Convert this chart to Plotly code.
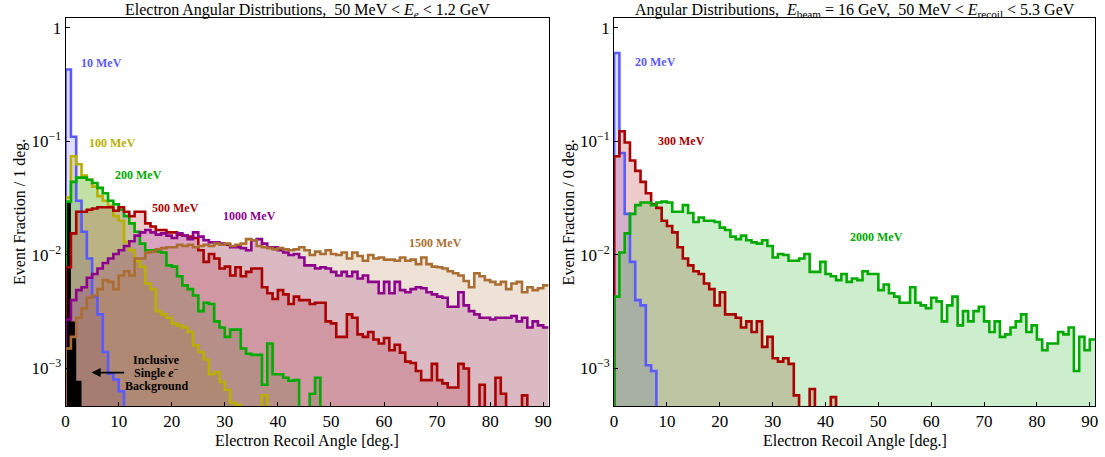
import plotly.graph_objects as go

# bin edges in degrees (1-degree bins, 0..91)
angle_edges = list(range(0, 92))

# ---- left panel: event fraction per 1 deg bin (0 = empty bin, below the plot) ----
bg_inclusive = [0.029, 0.0026, 0.00078]

frac_10mev = [0.43, 0.11, 0.030, 0.016, 0.0093, 0.0043, 0.0030, 0.0014, 0.00090, 0.00080,
              0.00063]

frac_100mev = [0.032, 0.074, 0.063, 0.050, 0.046, 0.040, 0.033, 0.030, 0.027, 0.022,
               0.020, 0.013, 0.011, 0.0089, 0.0079, 0.0056, 0.0050, 0.0032, 0.0030, 0.0028,
               0.0025, 0.0024, 0.0023, 0.0021, 0.0016, 0.0014, 0.0012, 0.00089, 0.00093, 0.00076,
               0.00065, 0.00050, 0.00048, 0, 0, 0, 0, 0.00058]

frac_200mev = [0.0295, 0.044, 0.048, 0.048, 0.046, 0.043, 0.039, 0.035, 0.030, 0.028,
               0.025, 0.022, 0.019, 0.016, 0.0126, 0.011, 0.011, 0.0107, 0.0105, 0.0081,
               0.0079, 0.0065, 0.0054, 0.0050, 0.0044, 0.0032, 0.0038, 0.0037, 0.0026, 0.0023,
               0.0019, 0.0022, 0.0022, 0.0015, 0.00135, 0.00132, 0.00132, 0.00072, 0.00166, 0.00089,
               0.00089, 0.00083, 0.00078, 0.00079, 0, 0, 0.00060, 0.00083]

frac_500mev = [0.0078, 0.0155, 0.024, 0.024, 0.025, 0.0257, 0.0263, 0.0263, 0.0263, 0.0245,
               0.0263, 0.024, 0.0219, 0.024, 0.024, 0.019, 0.0178, 0.0166, 0.0166, 0.0158,
               0.0158, 0.0151, 0.0148, 0.0145, 0.0141, 0.011, 0.0087, 0.0102, 0.0093, 0.0076,
               0.0079, 0.0066, 0.0078, 0.0065, 0.0071, 0.0076, 0.0076, 0.0052, 0.0046, 0.0041,
               0.0049, 0.0045, 0.0037, 0.0043, 0.0040, 0.0040, 0.0037, 0.0038, 0.0038, 0.0026,
               0.0025, 0.0019, 0.0019, 0.0030, 0.0028, 0.0020, 0.0019, 0.0021, 0.0018, 0.00166,
               0.00186, 0.00145, 0.00162, 0.00138, 0.00115, 0.00112, 0.00095, 0.00079, 0.00079, 0.0011,
               0.00079, 0.00074, 0.00068, 0.00068, 0.0011, 0.0010, 0, 0, 0.00072, 0,
               0, 0.00083, 0.00060, 0, 0, 0, 0.00058]

frac_1000mev = [0.0027, 0.0040, 0.0049, 0.0052, 0.0063, 0.0068, 0.0076, 0.0085, 0.0093, 0.0102,
                0.011, 0.012, 0.0132, 0.0148, 0.0158, 0.0166, 0.0158, 0.0151, 0.0155, 0.0148,
                0.0141, 0.0155, 0.0148, 0.0138, 0.0158, 0.0145, 0.0135, 0.0129, 0.0129, 0.0126,
                0.0123, 0.0117, 0.0117, 0.0115, 0.011, 0.0135, 0.0138, 0.0126, 0.0117, 0.0117,
                0.011, 0.0105, 0.0100, 0.0102, 0.0095, 0.0081, 0.0081, 0.0076, 0.0078, 0.0076,
                0.0071, 0.0066, 0.0071, 0.0065, 0.0071, 0.0062, 0.0066, 0.0058, 0.0058, 0.0046,
                0.0058, 0.0046, 0.0058, 0.0049, 0.0047, 0.0050, 0.0052, 0.0051, 0.0047, 0.0045,
                0.0043, 0.0042, 0.0035, 0.0035, 0.0047, 0.0036, 0.0032, 0.0030, 0.0028, 0.0028,
                0.0027, 0.0028, 0.0028, 0.0028, 0.0029, 0.0026, 0.0028, 0.0023, 0.0026, 0.0024,
                0.0023]

frac_1500mev = [0.0015, 0.0019, 0.0028, 0.0034, 0.0042, 0.0044, 0.0050, 0.0060, 0.0058, 0.0050,
                0.0066, 0.0072, 0.0066, 0.0093, 0.0093, 0.0105, 0.0107, 0.0112, 0.0115, 0.0117,
                0.0117, 0.0123, 0.012, 0.0123, 0.0117, 0.012, 0.0123, 0.012, 0.0126, 0.0123,
                0.0126, 0.012, 0.0123, 0.0126, 0.0138, 0.0135, 0.012, 0.0117, 0.0115, 0.0112,
                0.0115, 0.0112, 0.011, 0.0112, 0.0117, 0.011, 0.0100, 0.0107, 0.0102, 0.011,
                0.0102, 0.0100, 0.0105, 0.0093, 0.0105, 0.0098, 0.0089, 0.0100, 0.0093, 0.0095,
                0.0091, 0.0091, 0.0089, 0.0095, 0.0089, 0.0091, 0.0083, 0.0095, 0.0083, 0.0079,
                0.0078, 0.0076, 0.0072, 0.0069, 0.0066, 0.0059, 0.0052, 0.0069, 0.0065, 0.0060,
                0.0058, 0.0055, 0.0058, 0.0050, 0.0056, 0.0058, 0.0047, 0.0052, 0.0049, 0.0051,
                0.0054]

# ---- right panel ----
frac_20mev = [0.60, 0.079, 0.023, 0.0087, 0.0040, 0.0036, 0.00107, 0.00095]

frac_300mev = [0.074, 0.123, 0.098, 0.068, 0.055, 0.044, 0.035, 0.028, 0.026, 0.020,
               0.018, 0.0158, 0.0117, 0.0093, 0.0081, 0.0072, 0.0068, 0.0056, 0.0050, 0.0036,
               0.0047, 0.0030, 0.0030, 0.0028, 0.0023, 0.0026, 0.0021, 0.0026, 0.00155, 0.0019,
               0.00123, 0.00115, 0.00123, 0.0011, 0.00058, 0, 0, 0.00066, 0, 0,
               0, 0.00056]

frac_2000mev = [0.0043, 0.0105, 0.0155, 0.023, 0.0275, 0.029, 0.029, 0.0275, 0.029, 0.0295,
                0.029, 0.024, 0.024, 0.0275, 0.0234, 0.0195, 0.0214, 0.020, 0.020, 0.0195,
                0.0174, 0.0166, 0.0145, 0.0138, 0.0148, 0.0135, 0.0129, 0.0126, 0.0135, 0.012,
                0.0095, 0.0102, 0.0100, 0.0089, 0.0089, 0.0093, 0.0102, 0.0071, 0.0071, 0.0087,
                0.0068, 0.0065, 0.0060, 0.0068, 0.0058, 0.0062, 0.0060, 0.0072, 0.0068, 0.0068,
                0.0049, 0.0055, 0.0046, 0.0043, 0.0038, 0.0038, 0.0052, 0.0038, 0.0036, 0.0034,
                0.0042, 0.0039, 0.0026, 0.0036, 0.0043, 0.0024, 0.0032, 0.0026, 0.0032, 0.0035,
                0.0026, 0.0021, 0.0026, 0.0019, 0.0020, 0.0023, 0.0026, 0.0030, 0.0021, 0.0024,
                0.0018, 0.00145, 0.00166, 0.00166, 0.0021, 0.0020, 0.0023, 0.00095, 0.0019, 0.00145,
                0.0018]

FLOOR = 1e-6  # empty bins are drawn below the visible range
FONT = "Liberation Serif"

BLUE = (90, 90, 255)
OLIVE = (185, 175, 0)
GREEN = (0, 170, 0)
RED = (170, 0, 0)
PURPLE = (140, 0, 140)
BROWN = (170, 110, 50)


def rgb(c, a=None):
    if a is None:
        return "rgb(%d,%d,%d)" % c
    return "rgba(%d,%d,%d,%.2f)" % (c + (a,))


def step_points(vals):
    n = len(angle_edges) - 1
    ys = [v if v > 0 else FLOOR for v in vals] + [FLOOR] * (n - len(vals))
    xs = [0] + angle_edges
    ys = [FLOOR] + ys + [ys[-1]]
    return xs, ys


def hist_traces(vals, color, xa, ya, fill_alpha=0.2):
    xs, ys = step_points(vals)
    fill = go.Scatter(x=xs + [angle_edges[-1]], y=ys + [FLOOR], mode="lines",
                      line=dict(width=0, shape="hv"), fill="toself",
                      fillcolor=rgb(color, fill_alpha), xaxis=xa, yaxis=ya,
                      hoverinfo="skip", showlegend=False)
    line = go.Scatter(x=xs, y=ys, mode="lines", line=dict(color=rgb(color), width=2.6, shape="hv"),
                      xaxis=xa, yaxis=ya, showlegend=False)
    return fill, line


left_series = [(frac_10mev, BLUE), (frac_100mev, OLIVE), (frac_200mev, GREEN),
               (frac_500mev, RED), (frac_1000mev, PURPLE), (frac_1500mev, BROWN)]
right_series = [(frac_20mev, BLUE), (frac_300mev, RED), (frac_2000mev, GREEN)]

fills, lines = [], []
for vals, col in left_series:
    f, l = hist_traces(vals, col, "x", "y")
    fills.append(f)
    lines.append(l)

bx, by = step_points(bg_inclusive)
black = go.Scatter(x=bx + [angle_edges[-1]], y=by + [FLOOR], mode="lines",
                   line=dict(width=0, shape="hv"), fill="toself", fillcolor="black",
                   xaxis="x", yaxis="y", showlegend=False)

rfills, rlines = [], []
for vals, col in right_series:
    f, l = hist_traces(vals, col, "x2", "y2")
    rfills.append(f)
    rlines.append(l)

fig = go.Figure(data=fills + [black] + lines + rfills + rlines)

W, H = 1105, 457
left_px = (62, 548)
right_px = (614, 1098)
top_px, bot_px = 18, 406

axis_common = dict(showline=True, linecolor="black", linewidth=1, mirror=True,
                   ticks="inside", ticklen=4, tickcolor="black", showgrid=False,
                   zeroline=False, tickfont=dict(family=FONT, size=17, color="black"))
xticks = dict(range=[0, 91], tickvals=list(range(0, 91, 10)), **axis_common)
yticks = dict(type="log", range=[-3.33, 0.087], tickvals=[1e-3, 1e-2, 1e-1, 1],
              ticktext=["10<sup>\u22123</sup>", "10<sup>\u22122</sup>", "10<sup>\u22121</sup>", "1"],
              **axis_common)

ydom = [(H - bot_px) / H, (H - top_px) / H]
fig.update_layout(
    width=W, height=H,
    margin=dict(l=0, r=0, t=0, b=0),
    paper_bgcolor="white", plot_bgcolor="white",
    showlegend=False,
    xaxis=dict(domain=[left_px[0] / W, left_px[1] / W], anchor="y", **xticks),
    yaxis=dict(domain=ydom, anchor="x", **yticks),
    xaxis2=dict(domain=[right_px[0] / W, right_px[1] / W], anchor="y2", **xticks),
    yaxis2=dict(domain=ydom, anchor="x2", **yticks),
)

lab_font = dict(family=FONT, size=12)
curve_labels = [
    ("x", "y", 6.8, -0.306, "10 MeV", BLUE),
    ("x", "y", 8.8, -1.01, "100 MeV", OLIVE),
    ("x", "y", 13.8, -1.30, "200 MeV", GREEN),
    ("x", "y", 20.7, -1.586, "500 MeV", RED),
    ("x", "y", 34.7, -1.66, "1000 MeV", PURPLE),
    ("x", "y", 69.7, -1.895, "1500 MeV", BROWN),
    ("x2", "y2", 7.8, -0.30, "20 MeV", BLUE),
    ("x2", "y2", 12.8, -1.0, "300 MeV", RED),
    ("x2", "y2", 49.6, -1.84, "2000 MeV", GREEN),
]
annotations = []
for xr, yr, x, y, txt, col in curve_labels:
    annotations.append(dict(xref=xr, yref=yr, x=x, y=y, text="<b>%s</b>" % txt, showarrow=False,
                            xanchor="center", yanchor="middle",
                            font=dict(color=rgb(col), **lab_font)))

# background callout
for y, txt in [(-2.925, "Inclusive"), (-3.036, "Single <i>e</i><sup>\u2212</sup>"), (-3.15, "Background")]:
    annotations.append(dict(xref="x", yref="y", x=17.2, y=y, text="<b>%s</b>" % txt, showarrow=False,
                            xanchor="center", yanchor="middle",
                            font=dict(color="black", **lab_font)))
annotations.append(dict(xref="x", yref="y", x=4.9, y=-3.036, ax=11.3, ay=-3.036, axref="x", ayref="y",
                        text="", showarrow=True, arrowhead=2, arrowsize=1, arrowwidth=1.8,
                        arrowcolor="black"))

title_font = dict(family=FONT, size=16, color="black")
paper_text = [
    (sum(left_px) / 2, 10, 0,
     "Electron Angular Distributions,  50 MeV < <i>E<sub>e</sub></i> < 1.2 GeV"),
    (sum(right_px) / 2, 10, 0,
     "Angular Distributions,  <i>E</i><sub>beam</sub> = 16 GeV,  50 MeV < <i>E</i><sub>recoil</sub> < 5.3 GeV"),
    (sum(left_px) / 2, 441, 0, "Electron Recoil Angle [deg.]"),
    (sum(right_px) / 2, 441, 0, "Electron Recoil Angle [deg.]"),
    (16, 212, -90, "Event Fraction / 1 deg."),
    (569, 212, -90, "Event Fraction / 0 deg."),
]
for px, py, ang, txt in paper_text:
    annotations.append(dict(xref="paper", yref="paper", x=px / W, y=(H - py) / H, text=txt,
                            textangle=ang, showarrow=False, xanchor="center", yanchor="middle",
                            font=title_font))
fig.update_layout(annotations=annotations)

fig.write_html("out.html", config={"displayModeBar": False},
               post_script="document.body.style.margin='0';")
